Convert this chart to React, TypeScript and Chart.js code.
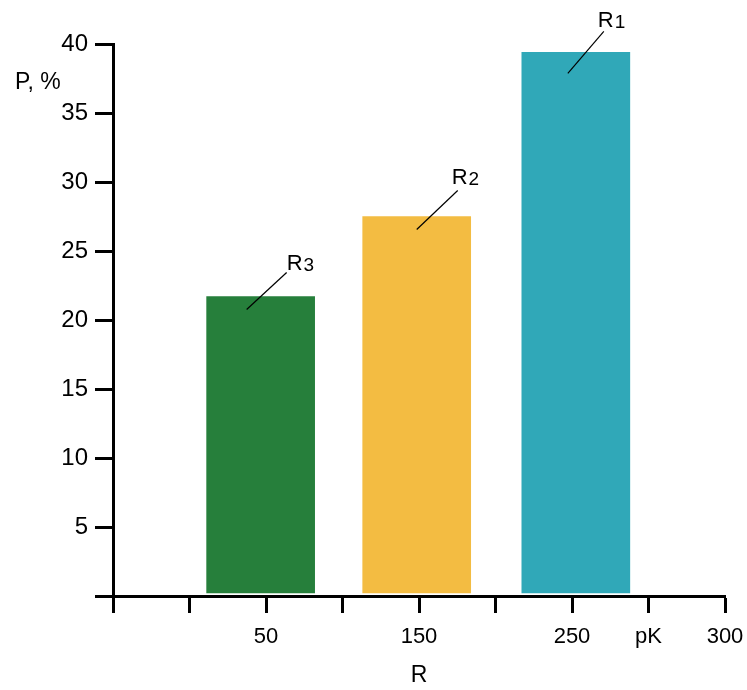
import React, { useEffect, useRef } from "react";
import { Chart, registerables } from "chart.js";

Chart.register(...registerables);

// ---- data ----
const barPositions = [1.93, 3.97, 6.05]; // position along the x axis (tick units)
const barValues = [21.7, 27.5, 39.4]; // P, %
const barNames = ["R", "R", "R"];
const barSubscripts = ["3", "2", "1"];
const barColors = ["#267F3B", "#F3BC42", "#30A8B8"];
const xTickLabels = ["", "", "50", "", "150", "", "250", "pK", "300"];
const yTitle = "P, %";
const xTitle = "R";

// ---- annotation layout (pixel offsets from each bar's top-centre) ----
const leaderOffsets = [
  { x1: -14, y1: 13, x2: 26, y2: -24, tx: 26, ty: -27 },
  { x1: 0, y1: 13, x2: 41, y2: -26, tx: 35, ty: -33 },
  { x1: -8, y1: 21, x2: 28, y2: -21, tx: 22, ty: -25 },
];

const FONT = "'Liberation Sans', Arial, Helvetica, sans-serif";

const annotationPlugin = {
  id: "barAnnotations",
  afterDatasetsDraw(chart: any) {
    const ctx = chart.ctx as CanvasRenderingContext2D;
    const meta = chart.getDatasetMeta(0);
    ctx.save();
    // y-axis title
    ctx.fillStyle = "#000";
    ctx.font = `23px ${FONT}`;
    ctx.textAlign = "left";
    ctx.textBaseline = "middle";
    ctx.fillText(yTitle, 15, chart.chartArea.top + 39);

    meta.data.forEach((bar: any, i: number) => {
      const { x, y } = bar.getProps(["x", "y"], true);
      const o = leaderOffsets[i];
      ctx.strokeStyle = "#000";
      ctx.lineWidth = 1.2;
      ctx.beginPath();
      ctx.moveTo(x + o.x1, y + o.y1);
      ctx.lineTo(x + o.x2, y + o.y2);
      ctx.stroke();

      ctx.textBaseline = "alphabetic";
      ctx.font = `22px ${FONT}`;
      const tx = x + o.tx;
      const ty = y + o.ty;
      ctx.fillText(barNames[i], tx, ty);
      const w = ctx.measureText(barNames[i]).width;
      ctx.font = `19px ${FONT}`;
      ctx.fillText(barSubscripts[i], tx + w + 1, ty + 1);
    });
    ctx.restore();
  },
};

export default function App() {
  const canvasRef = useRef<HTMLCanvasElement | null>(null);

  useEffect(() => {
    if (!canvasRef.current) return;
    Chart.defaults.font.family = FONT;
    const chart = new Chart(canvasRef.current, {
      type: "bar",
      data: {
        datasets: [
          {
            data: barPositions.map((x, i) => ({ x, y: barValues[i] })) as any,
            backgroundColor: barColors,
            borderWidth: 0,
            barThickness: 108,
            base: 0.22,
          } as any,
        ],
      },
      options: {
        animation: false,
        responsive: false,
        maintainAspectRatio: false,
        layout: { padding: { top: 44, right: 22, bottom: 0, left: 0 } },
        plugins: {
          legend: { display: false },
          tooltip: { enabled: false },
          title: { display: false },
        },
        scales: {
          x: {
            type: "linear",
            min: 0,
            max: 8,
            offset: false,
            grid: {
              offset: false,
              drawOnChartArea: false,
              drawTicks: true,
              tickLength: 17,
              tickWidth: 3,
              tickColor: "#000",
              color: "#000",
            },
            border: { display: true, width: 3, color: "#000" },
            ticks: {
              stepSize: 1,
              autoSkip: false,
              maxRotation: 0,
              padding: 11,
              color: "#000",
              font: { size: 22 },
              callback: (v: any) => xTickLabels[Math.round(Number(v))] ?? "",
            },
            title: {
              display: true,
              text: xTitle,
              color: "#000",
              font: { size: 23 },
              padding: { top: 0, bottom: 1 },
            },
            afterFit: (s: any) => {
              s.height = 94;
              s.paddingLeft = 0;
              s.paddingRight = 0;
            },
          } as any,
          y: {
            min: 0,
            max: 40,
            grid: {
              drawOnChartArea: false,
              drawTicks: true,
              tickLength: 18,
              tickWidth: 3,
              tickColor: "#000",
              color: "#000",
            },
            border: { display: true, width: 3, color: "#000" },
            ticks: {
              stepSize: 5,
              padding: 7,
              color: "#000",
              font: { size: 24 },
              callback: (v: any) => (Number(v) === 0 ? "" : String(v)),
            },
            afterFit: (s: any) => {
              s.width = 113;
            },
          } as any,
        },
      },
      plugins: [annotationPlugin],
    });
    return () => chart.destroy();
  }, []);

  return (
    <div style={{ position: "absolute", left: 0, top: 0, width: 747, height: 690, background: "#fff" }}>
      <canvas ref={canvasRef} width={747} height={690} />
    </div>
  );
}
